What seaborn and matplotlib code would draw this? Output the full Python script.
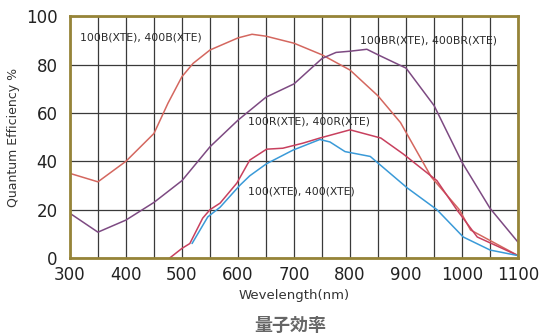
import matplotlib
matplotlib.use('Agg')
import matplotlib.pyplot as plt
import pandas as pd
import seaborn as sns
from matplotlib.ticker import MultipleLocator

# Quantum efficiency curves
b_x = [300, 350, 400, 450, 475, 500, 520, 550, 600, 625, 650, 700, 750, 800, 850, 890, 945, 995, 1015, 1100]
b_y = [35, 31.5, 40, 51.5, 64, 75, 80.5, 86, 91, 92.5, 91.7, 88.8, 84, 77.7, 67, 56, 33.5, 20, 11.6, 1]

br_x = [300, 350, 400, 450, 500, 550, 600, 650, 700, 750, 775, 800, 830, 850, 900, 950, 1000, 1050, 1100]
br_y = [18.5, 10.7, 15.7, 23, 32, 46, 57, 66.5, 72, 82.5, 85, 85.5, 86.3, 84, 78.5, 63, 39.5, 20.5, 6.5]

r_x = [478, 500, 514, 537, 550, 568, 598, 621, 651, 680, 716, 746, 800, 855, 895, 955, 991, 1027, 1100]
r_y = [0, 4, 6, 16.5, 20, 22.7, 31, 40.5, 45, 45.4, 47.5, 49.6, 53, 49.6, 43, 32, 19.8, 8.7, 1]

bl_x = [518, 546, 568, 603, 621, 651, 698, 746, 764, 791, 836, 902, 955, 1002, 1050, 1100]
bl_y = [6, 17, 21, 30, 34, 39, 44.6, 49, 48, 44, 42, 29, 20, 8.7, 3.3, 1]

series = ['B', 'BR', 'R', 'STD']
labels = ['100B(XTE), 400B(XTE)', '100BR(XTE), 400BR(XTE)',
          '100R(XTE), 400R(XTE)', '100(XTE), 400(XTE)']
colors = ['#d4675f', '#7d4a82', '#c8405e', '#3a9ad8']

frames = []
for name, xs, ys in zip(series, [b_x, br_x, r_x, bl_x], [b_y, br_y, r_y, bl_y]):
    frames.append(pd.DataFrame({'wl': xs, 'qe': ys, 'model': name}))
df = pd.concat(frames, ignore_index=True)

sns.set_style('white')
plt.rcParams['font.family'] = ['DejaVu Sans', 'Noto Sans CJK JP']

fig = plt.figure(figsize=(5.42, 3.36), dpi=100)
ax = fig.add_axes([0.129, 0.232, 0.827, 0.72])

sns.lineplot(data=df, x='wl', y='qe', hue='model', palette=dict(zip(series, colors)),
             sort=False, estimator=None, linewidth=1.1, legend=False, ax=ax)

ax.set_xlim(300, 1100)
ax.set_ylim(0, 100)
ax.xaxis.set_major_locator(MultipleLocator(100))
ax.xaxis.set_minor_locator(MultipleLocator(50))
ax.yaxis.set_major_locator(MultipleLocator(20))
ax.grid(True, which='both', axis='x', color='#3a3a3a', linewidth=0.9)
ax.grid(True, which='major', axis='y', color='#3a3a3a', linewidth=0.9)
ax.set_axisbelow(True)
ax.tick_params(which='both', length=0, labelsize=12, colors='#222222')
ax.tick_params(axis='x', pad=6)
ax.tick_params(axis='y', pad=9)

for sp in ax.spines.values():
    sp.set_color('#968438')
    sp.set_linewidth(2)
    sp.set_visible(True)

ax.set_xlabel('Wevelength(nm)', fontsize=9.5, color='#333333', labelpad=3)
ax.set_ylabel('Quantum Efficiency %', fontsize=9, color='#333333', labelpad=4)

lab_pos = [(318, 91), (818, 90), (618, 56.5), (618, 27.5)]
for (lx, ly), txt in zip(lab_pos, labels):
    ax.text(lx, ly, txt, fontsize=7.8, color='#2a2a2a', va='center', ha='left')

fig.text(0.535, 0.03, '量子効率', fontsize=13, fontweight='bold', color='#666666',
         ha='center', va='center', family=['Noto Sans CJK JP', 'DejaVu Sans'])

fig.savefig('out.png', dpi=100)
